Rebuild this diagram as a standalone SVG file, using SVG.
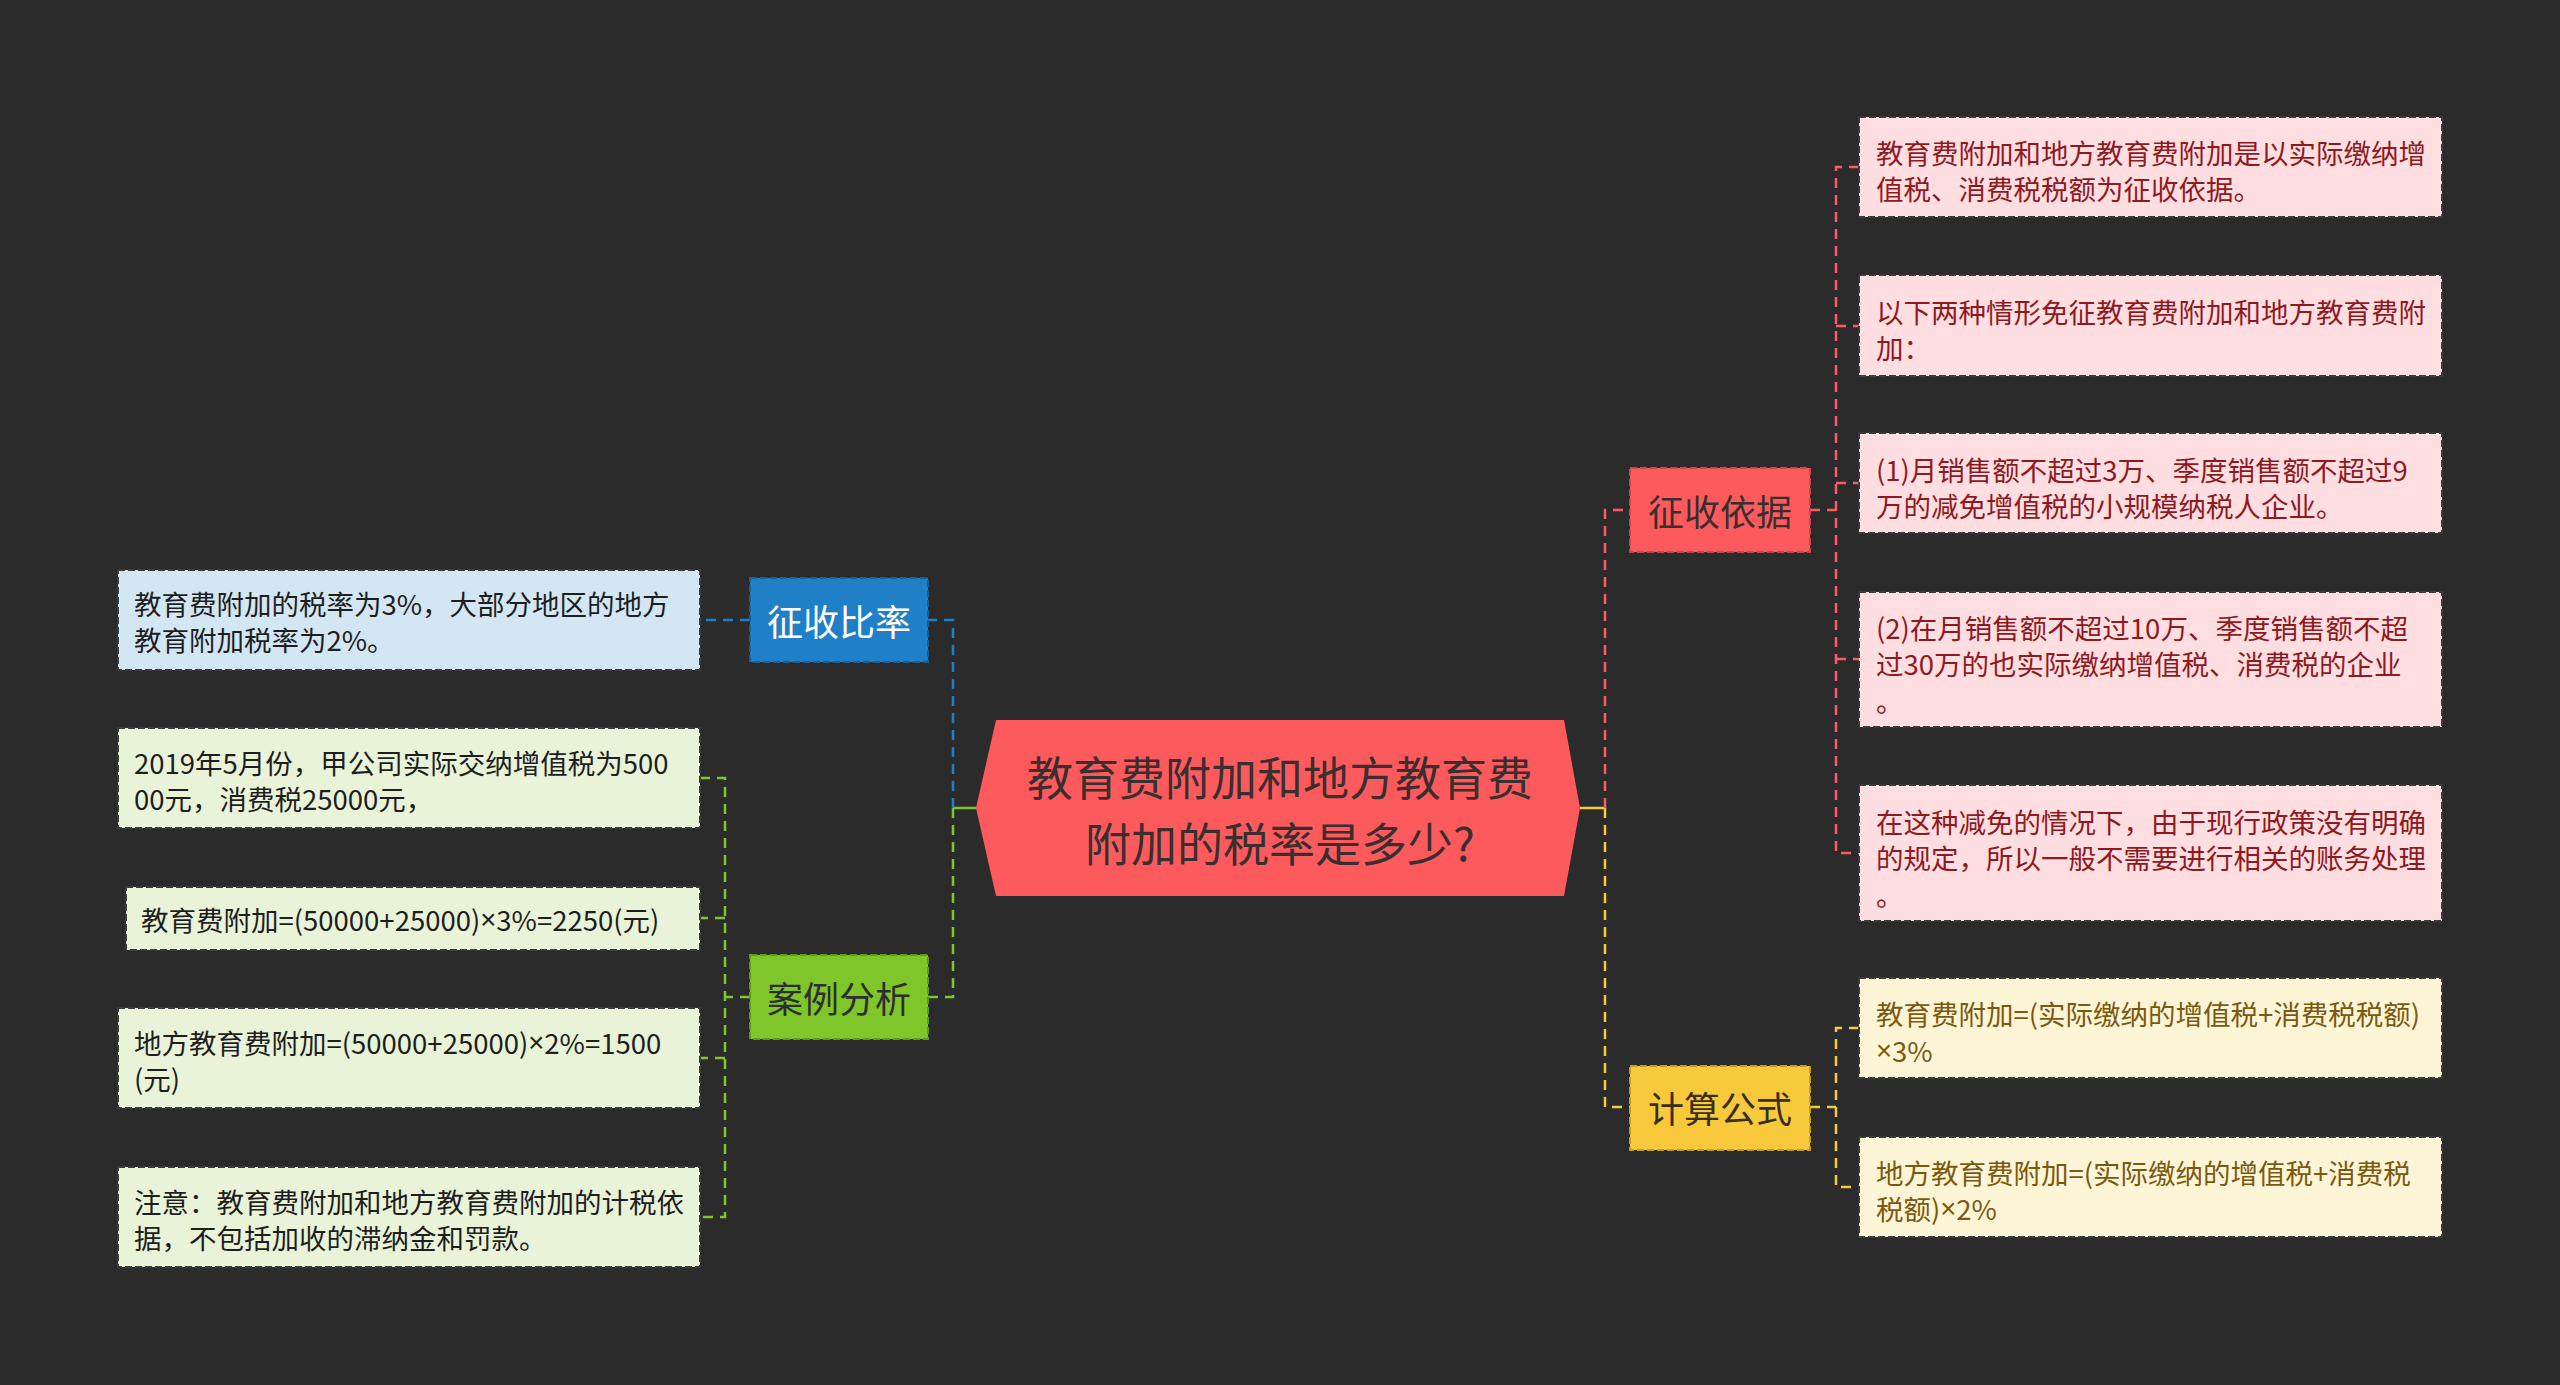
<svg xmlns="http://www.w3.org/2000/svg" width="2560" height="1385" viewBox="0 0 2560 1385">
<style>
text{font-family:"Noto Sans CJK SC","Noto Sans",sans-serif;dominant-baseline:central}
.leaf{font-size:27.5px}
.node{font-size:36px;text-anchor:middle}
.x{font-family:"Liberation Sans",sans-serif}
.lb{stroke:#3a3a3a;stroke-width:2;stroke-dasharray:7 3}
.nb{stroke-width:2;stroke-dasharray:7 3}
.c{fill:none;stroke-width:2.5;stroke-dasharray:10 7}
.cb{stroke:#1F80C8}.cg{stroke:#7EC629}.cr{stroke:#FF5A5F}.cy{stroke:#F9C93C}
</style>
<rect width="2560" height="1385" fill="#2B2B2B"/>
<g id="connectors">
<path d="M953,808 H976" fill="none" stroke="#7EC629" stroke-width="2.5"/>
<path d="M1580,808 H1605" fill="none" stroke="#F9C93C" stroke-width="2.5"/>
<path class="c cb" d="M953,808 V620 H928"/>
<path class="c cb" d="M750,620 H700"/>
<path class="c cg" d="M953,808 V997 H928"/>
<path class="c cg" d="M750,997 H725"/>
<path class="c cg" d="M700,778 H725 V1217 H700 M725,918 H700 M725,1058 H700"/>
<path class="c cr" d="M1605,808 V510 H1630"/>
<path class="c cr" d="M1810,510 H1836"/>
<path class="c cr" d="M1859,167 H1836 V853 H1859 M1836,326 H1859 M1836,483 H1859 M1836,659 H1859"/>
<path class="c cy" d="M1605,808 V1107 H1630"/>
<path class="c cy" d="M1810,1107 H1836"/>
<path class="c cy" d="M1859,1028 H1836 V1187 H1859"/>
</g>
<g id="center">
<polygon points="996,720 1564,720 1580,808 1564,896 996,896 976,808" fill="#FD5A5E"/>
<text x="1280" y="775" font-size="46" text-anchor="middle" fill="#3A2E2E">教育费附加和地方教育费</text>
<text x="1280" y="841" font-size="46" text-anchor="middle" fill="#3A2E2E">附加的税率是多少?</text>
</g>
<g id="n-rate">
<rect class="nb" x="750" y="578" width="178" height="84" fill="#1F80C8" stroke="#165f96"/>
<text class="node" x="839" y="620" fill="#FFFFFF">征收比率</text>
</g>
<g id="n-rate-1">
<rect class="lb" x="118" y="570" width="582" height="100" fill="#D3E6F4"/>
<text class="leaf" x="134" y="603" fill="#1E1E1E">教育费附加的税率为3%，大部分地区的地方</text>
<text class="leaf" x="134" y="639" fill="#1E1E1E">教育附加税率为2%。</text>
</g>
<g id="n-case">
<rect class="nb" x="750" y="955" width="178" height="84" fill="#7EC629" stroke="#5e9a1c"/>
<text class="node" x="839" y="997" fill="#2E2E2E">案例分析</text>
</g>
<g id="n-case-1">
<rect class="lb" x="118" y="728" width="582" height="100" fill="#E9F3D8"/>
<text class="leaf" x="134" y="762" fill="#1E1E1E">2019年5月份，甲公司实际交纳增值税为500</text>
<text class="leaf" x="134" y="798" fill="#1E1E1E">00元，消费税25000元，</text>
</g>
<g id="n-case-2">
<rect class="lb" x="126" y="887" width="574" height="63" fill="#E9F3D8"/>
<text class="leaf" x="141" y="919" fill="#1E1E1E">教育费附加=(50000+25000)<tspan class="x">×</tspan>3%=2250(元)</text>
</g>
<g id="n-case-3">
<rect class="lb" x="118" y="1008" width="582" height="100" fill="#E9F3D8"/>
<text class="leaf" x="134" y="1042" fill="#1E1E1E">地方教育费附加=(50000+25000)<tspan class="x">×</tspan>2%=1500</text>
<text class="leaf" x="134" y="1078" fill="#1E1E1E">(元)</text>
</g>
<g id="n-case-4">
<rect class="lb" x="118" y="1167" width="582" height="100" fill="#E9F3D8"/>
<text class="leaf" x="134" y="1201" fill="#1E1E1E">注意：教育费附加和地方教育费附加的计税依</text>
<text class="leaf" x="134" y="1237" fill="#1E1E1E">据，不包括加收的滞纳金和罚款。</text>
</g>
<g id="n-basis">
<rect class="nb" x="1630" y="468" width="180" height="84" fill="#FD5A5E" stroke="#c8434a"/>
<text class="node" x="1720" y="510" fill="#3A2E2E">征收依据</text>
</g>
<g id="n-basis-1">
<rect class="lb" x="1859" y="117" width="583" height="100" fill="#FFDEE1"/>
<text class="leaf" x="1876" y="152" fill="#8E1A1F">教育费附加和地方教育费附加是以实际缴纳增</text>
<text class="leaf" x="1876" y="188" fill="#8E1A1F">值税、消费税税额为征收依据。</text>
</g>
<g id="n-basis-2">
<rect class="lb" x="1859" y="275" width="583" height="101" fill="#FFDEE1"/>
<text class="leaf" x="1876" y="311" fill="#8E1A1F">以下两种情形免征教育费附加和地方教育费附</text>
<text class="leaf" x="1876" y="347" fill="#8E1A1F">加：</text>
</g>
<g id="n-basis-3">
<rect class="lb" x="1859" y="433" width="583" height="100" fill="#FFDEE1"/>
<text class="leaf" x="1876" y="469" fill="#8E1A1F">(1)月销售额不超过3万、季度销售额不超过9</text>
<text class="leaf" x="1876" y="505" fill="#8E1A1F">万的减免增值税的小规模纳税人企业。</text>
</g>
<g id="n-basis-4">
<rect class="lb" x="1859" y="592" width="583" height="135" fill="#FFDEE1"/>
<text class="leaf" x="1876" y="627" fill="#8E1A1F">(2)在月销售额不超过10万、季度销售额不超</text>
<text class="leaf" x="1876" y="663" fill="#8E1A1F">过30万的也实际缴纳增值税、消费税的企业</text>
<text class="leaf" x="1876" y="700" fill="#8E1A1F">。</text>
</g>
<g id="n-basis-5">
<rect class="lb" x="1859" y="785" width="583" height="136" fill="#FFDEE1"/>
<text class="leaf" x="1876" y="821" fill="#8E1A1F">在这种减免的情况下，由于现行政策没有明确</text>
<text class="leaf" x="1876" y="857" fill="#8E1A1F">的规定，所以一般不需要进行相关的账务处理</text>
<text class="leaf" x="1876" y="894" fill="#8E1A1F">。</text>
</g>
<g id="n-formula">
<rect class="nb" x="1630" y="1066" width="180" height="84" fill="#F9C93C" stroke="#c89a1e"/>
<text class="node" x="1720" y="1107" fill="#3A2E1E">计算公式</text>
</g>
<g id="n-formula-1">
<rect class="lb" x="1859" y="978" width="583" height="100" fill="#FEF5D7"/>
<text class="leaf" x="1876" y="1013" fill="#7A5A10">教育费附加=(实际缴纳的增值税+消费税税额)</text>
<text class="leaf" x="1876" y="1050" fill="#7A5A10"><tspan class="x">×</tspan>3%</text>
</g>
<g id="n-formula-2">
<rect class="lb" x="1859" y="1137" width="583" height="100" fill="#FEF5D7"/>
<text class="leaf" x="1876" y="1172" fill="#7A5A10">地方教育费附加=(实际缴纳的增值税+消费税</text>
<text class="leaf" x="1876" y="1208" fill="#7A5A10">税额)<tspan class="x">×</tspan>2%</text>
</g>
</svg>
